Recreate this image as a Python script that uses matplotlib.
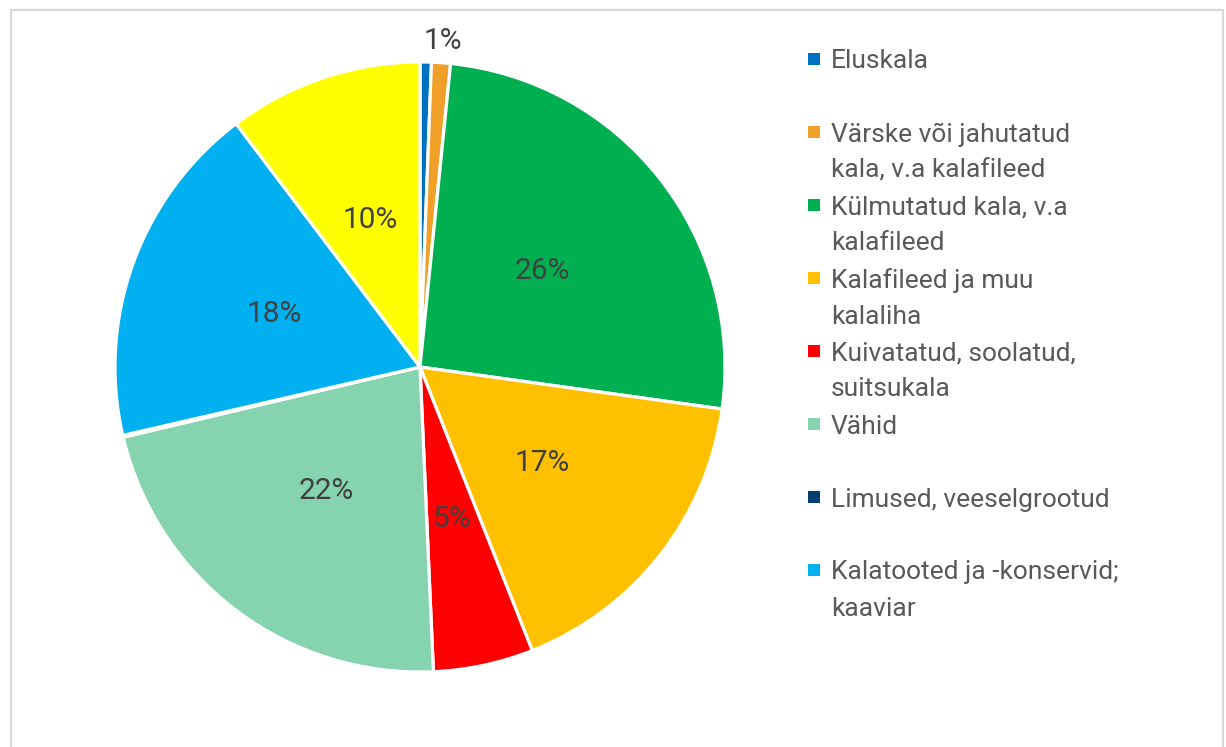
import numpy as np
import matplotlib
matplotlib.use("Agg")
from matplotlib import pyplot as plt
from matplotlib.patches import Rectangle

# categories in clockwise order from 12 o'clock
categories = [
    "Eluskala",
    "Värske või jahutatud\nkala, v.a kalafileed",
    "Külmutatud kala, v.a\nkalafileed",
    "Kalafileed ja muu\nkalaliha",
    "Kuivatatud, soolatud,\nsuitsukala",
    "Vähid",
    "Limused, veeselgrootud",
    "Kalatooted ja -konservid;\nkaaviar",
    "Muud",
]
shares = [0.6, 1.0, 25.6, 16.8, 5.3, 22.0, 0.1, 18.3, 10.3]
colors = ["#0070C0", "#F0A028", "#00B050", "#FFC000", "#FF0000",
          "#85D3AF", "#003F6F", "#00B0F0", "#FFFF00"]
n_legend = 8  # last entry is cut off in the original legend

plt.rcParams['font.family'] = ['Roboto', 'DejaVu Sans']

fig = plt.figure(figsize=(12.26, 7.47), dpi=100)

# light grey frame round the chart
fig.patches.append(Rectangle((11 / 1226, -0.05), (1223 - 11) / 1226, 1.05 - 10 / 747,
                             transform=fig.transFigure, fill=False,
                             edgecolor="#D9D9D9", linewidth=1.6))

ax = fig.add_axes([115 / 1226, 75 / 747, 610 / 1226, 610 / 747])


def pct_label(p):
    if p < 0.8:
        return ""
    return "%d%%" % round(p)


wedges, texts, autotexts = ax.pie(
    shares, colors=colors, startangle=90, counterclock=False,
    autopct=pct_label, pctdistance=0.51,
    wedgeprops=dict(edgecolor="white", linewidth=2.3),
    textprops=dict(color="#404040", fontsize=21.5))

# the 1% slice gets its label outside the pie
for w, t, p in zip(wedges, autotexts, shares):
    if 0.8 <= p < 1.5:
        ang = np.deg2rad((w.theta1 + w.theta2) / 2)
        t.set_position((1.07 * np.cos(ang), 1.07 * np.sin(ang)))

ax.set_xlim(-1, 1)
ax.set_ylim(-1, 1)
ax.set_aspect("equal")
ax.axis("off")

# legend, Excel style: each entry gets two text lines of room
top = 747 - 59
slot = 73
line_gap = 36
for i in range(n_legend):
    y = top - i * slot
    fig.patches.append(Rectangle((808 / 1226, (y - 6) / 747), 12 / 1226, 12 / 747,
                                 transform=fig.transFigure,
                                 facecolor=colors[i], edgecolor="none"))
    for k, line in enumerate(categories[i].split("\n")):
        fig.text(831 / 1226, (y - k * line_gap) / 747, line, fontsize=19,
                 color="#595959", va="center_baseline", ha="left")

fig.savefig("out.png", dpi=100)
